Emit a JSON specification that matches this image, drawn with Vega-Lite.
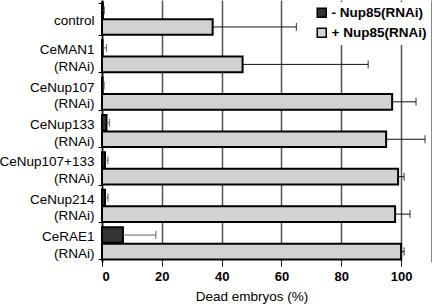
{
  "$schema": "https://vega.github.io/schema/vega-lite/v6.json",
  "width": 329,
  "height": 262,
  "autosize": "none",
  "padding": {"left": 102, "top": 0, "right": 1, "bottom": 44},
  "background": "white",
  "config": {
    "view": {"stroke": null},
    "font": "Liberation Sans"
  },
  "data": {
    "values": [
      {"cat": "control", "series": "- Nup85(RNAi)", "value": 0.3, "hi": 0.8},
      {"cat": "control", "series": "+ Nup85(RNAi)", "value": 37, "hi": 65},
      {"cat": "CeMAN1 (RNAi)", "series": "- Nup85(RNAi)", "value": 0.2, "hi": 1.5},
      {"cat": "CeMAN1 (RNAi)", "series": "+ Nup85(RNAi)", "value": 47, "hi": 89},
      {"cat": "CeNup107 (RNAi)", "series": "- Nup85(RNAi)", "value": 0.2, "hi": 0.7},
      {"cat": "CeNup107 (RNAi)", "series": "+ Nup85(RNAi)", "value": 97, "hi": 105},
      {"cat": "CeNup133 (RNAi)", "series": "- Nup85(RNAi)", "value": 1.5, "hi": 2.5},
      {"cat": "CeNup133 (RNAi)", "series": "+ Nup85(RNAi)", "value": 95, "hi": 108},
      {"cat": "CeNup107+133 (RNAi)", "series": "- Nup85(RNAi)", "value": 1, "hi": 2},
      {"cat": "CeNup107+133 (RNAi)", "series": "+ Nup85(RNAi)", "value": 99, "hi": 101},
      {"cat": "CeNup214 (RNAi)", "series": "- Nup85(RNAi)", "value": 1, "hi": 2},
      {"cat": "CeNup214 (RNAi)", "series": "+ Nup85(RNAi)", "value": 98, "hi": 103},
      {"cat": "CeRAE1 (RNAi)", "series": "- Nup85(RNAi)", "value": 7, "hi": 18},
      {"cat": "CeRAE1 (RNAi)", "series": "+ Nup85(RNAi)", "value": 100, "hi": 101}
    ]
  },
  "encoding": {
    "y": {
      "field": "cat",
      "type": "nominal",
      "sort": null,
      "scale": {"paddingInner": 0.14, "paddingOuter": 0.07},
      "axis": {
        "title": null,
        "labelExpr": "split(datum.label, ' ')",
        "labelFontSize": 13.5,
        "labelLineHeight": 16.5,
        "labelOffset": {"condition": {"test": "datum.value !== 'control'", "value": -6.5}, "value": 1.5},
        "labelColor": "black",
        "labelPadding": 4,
        "tickBand": "extent",
        "tickSize": 4,
        "tickColor": "black",
        "domainColor": "black",
        "domainWidth": 1.5,
        "grid": false
      }
    },
    "yOffset": {
      "field": "series",
      "type": "nominal",
      "scale": {"domain": ["- Nup85(RNAi)", "+ Nup85(RNAi)"], "paddingInner": 0.05, "paddingOuter": 0}
    }
  },
  "layer": [
    {
      "mark": {"type": "bar", "stroke": "black", "strokeWidth": 2, "cornerRadius": 0},
      "encoding": {
        "x": {
          "field": "value",
          "type": "quantitative",
          "scale": {"domain": [0, 110], "nice": false},
          "axis": {
            "title": "Dead embryos (%)",
            "titleFontSize": 13.5,
            "titleFontWeight": "normal",
            "titleColor": "black",
            "titleX": 149.5,
            "titlePadding": 6,
            "values": [0, 20, 40, 60, 80, 100, 110],
            "labelExpr": "datum.value > 100 ? '' : datum.label",
            "labelFontSize": 13,
            "labelFontWeight": "bold",
            "labelColor": "black",
            "labelPadding": 4,
            "domain": false,
            "tickSize": 4,
            "tickColor": {"condition": {"test": "datum.value > 100", "value": "transparent"}, "value": "black"},
            "grid": true,
            "gridColor": {"condition": {"test": "datum.value > 100", "value": "#888888"}, "value": "#555555"},
            "gridWidth": {"condition": {"test": "datum.value > 100", "value": 1}, "value": 1.5},
            "gridOpacity": 1
          }
        },
        "fill": {
          "field": "series",
          "type": "nominal",
          "scale": {"domain": ["- Nup85(RNAi)", "+ Nup85(RNAi)"], "range": ["#333333", "#d2d2d2"]},
          "legend": {
            "title": null,
            "orient": "none",
            "legendX": 209,
            "legendY": 2,
            "padding": 4,
            "fillColor": "white",
            "symbolType": "square",
            "symbolSize": 81,
            "symbolStrokeColor": "black",
            "symbolStrokeWidth": 1.5,
            "labelFontSize": 13.5,
            "labelFontWeight": "bold",
            "labelColor": "black",
            "labelOffset": 3,
            "rowPadding": 4
          }
        }
      }
    },
    {
      "mark": {"type": "rule", "strokeWidth": 1},
      "encoding": {
        "x": {"field": "value", "type": "quantitative"},
        "x2": {"field": "hi"},
        "stroke": {"condition": {"test": "datum.series === '- Nup85(RNAi)'", "value": "#666666"}, "value": "#111111"}
      }
    },
    {
      "mark": {"type": "tick", "size": 8, "thickness": 1.2},
      "encoding": {
        "x": {"field": "hi", "type": "quantitative"},
        "color": {"condition": {"test": "datum.series === '- Nup85(RNAi)'", "value": "#444444"}, "value": "#111111"}
      }
    }
  ]
}
